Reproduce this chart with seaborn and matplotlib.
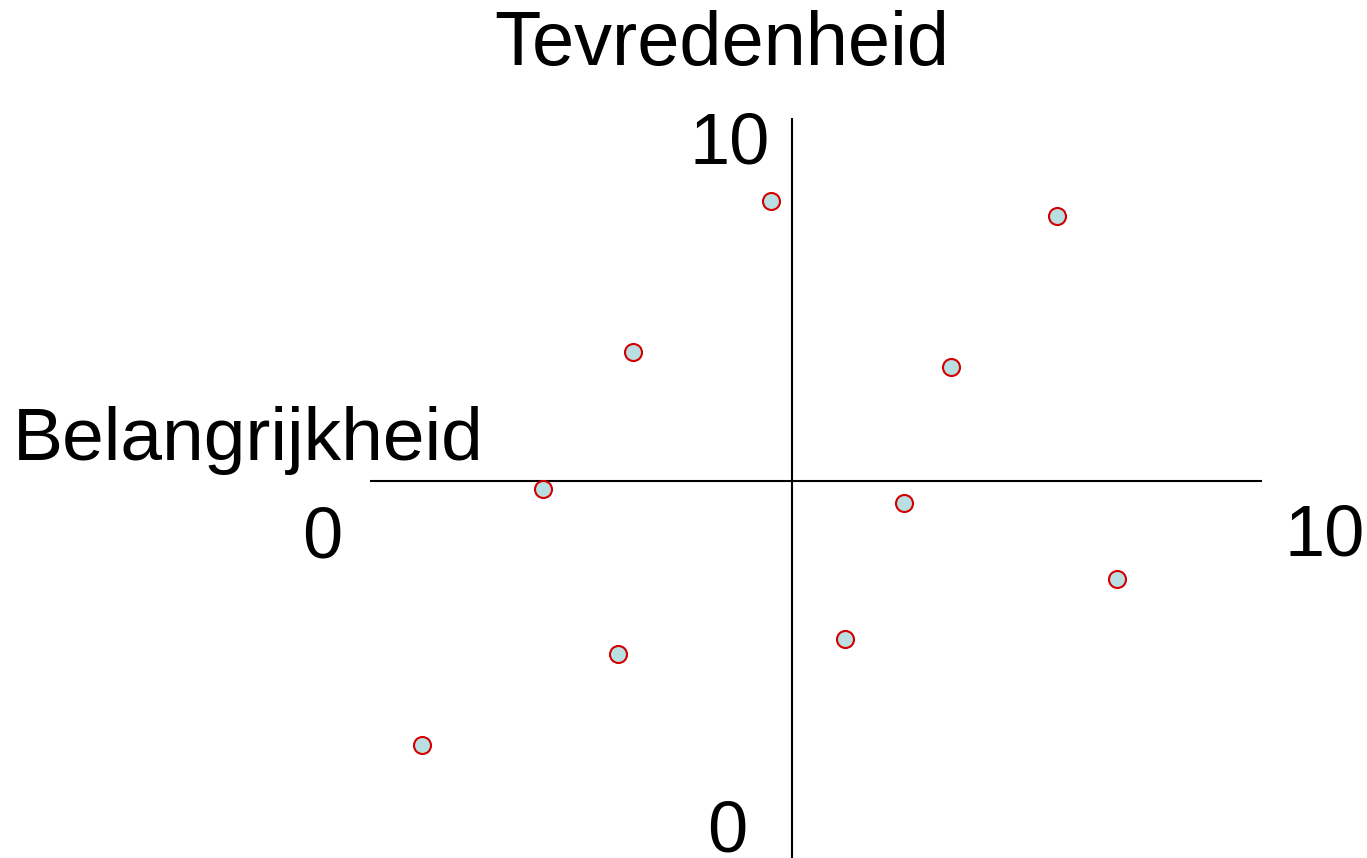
import matplotlib
matplotlib.use("Agg")
import matplotlib.pyplot as plt
import seaborn as sns
import pandas as pd

# Importance (x) and satisfaction (y) scores
belangrijkheid = [4.49, 7.70, 2.95, 6.51, 1.94, 5.99, 8.37, 5.33, 2.78, 0.58]
tevredenheid = [8.88, 8.68, 6.84, 6.64, 4.99, 4.80, 3.77, 2.96, 2.76, 1.53]
x_cross = 4.73
y_cross = 5.10

df = pd.DataFrame({"x": belangrijkheid, "y": tevredenheid})

sns.set_style("white")
plt.rcParams["font.family"] = ["Liberation Sans", "DejaVu Sans"]

W, H = 1367, 858
fig = plt.figure(figsize=(W / 100, H / 100), dpi=100)
ax = fig.add_axes([370 / W, 0, 892 / W, 740 / H])

sns.scatterplot(data=df, x="x", y="y", ax=ax, s=150, color="#b9dfe2",
                edgecolor="#d40000", linewidth=1.5, zorder=3)

ax.axhline(y_cross, color="black", lw=1.5)
ax.axvline(x_cross, color="black", lw=1.5)
ax.set_xlim(0, 10)
ax.set_ylim(0, 10)
ax.set_xticks([])
ax.set_yticks([])
ax.set_xlabel("")
ax.set_ylabel("")
sns.despine(ax=ax, left=True, bottom=True)


def ptext(px, py, s, fs=52):
    fig.text(px / W, 1 - py / H, s, fontsize=fs, color="black",
             ha="center", va="baseline")


ptext(730, 163, "10")
ptext(727, 852, "0")
ptext(322, 558, "0")
ptext(1325, 555, "10")
ptext(722, 65, "Tevredenheid", fs=54.5)
ptext(248, 460, "Belangrijkheid", fs=54)

fig.savefig("out.png", dpi=100)
plt.close(fig)
